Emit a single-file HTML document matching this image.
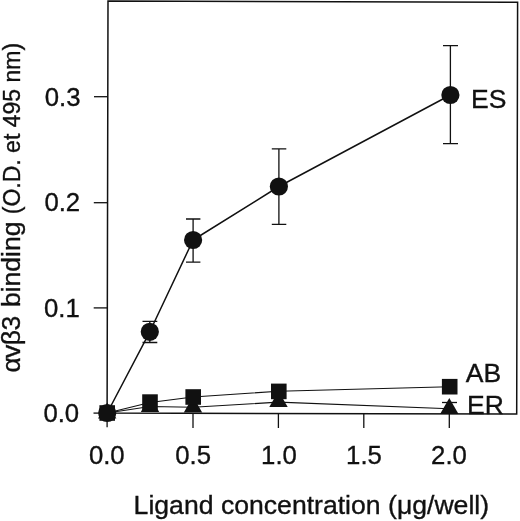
<!DOCTYPE html>
<html><head><meta charset="utf-8"><title>Ligand concentration binding chart</title>
<style>
html,body{margin:0;padding:0;background:#fff;}
svg{display:block;}
text{font-family:"Liberation Sans",sans-serif;fill:#111;stroke:#111;stroke-width:0.35;}
</style></head><body>
<svg width="520" height="521" viewBox="0 0 520 521">
<rect x="0" y="0" width="520" height="521" fill="#fff"/>
<!-- frame -->
<path d="M108 1.1L517.6 2.2L516.7 414L107.1 413.1Z" fill="none" stroke="#111" stroke-width="1.5"/>
<!-- y ticks -->
<g stroke="#111" stroke-width="1.3">
<line x1="93.5" y1="413.1" x2="107.2" y2="413.1"/>
<line x1="93.7" y1="307.9" x2="107.5" y2="307.9"/>
<line x1="93.8" y1="202.7" x2="107.7" y2="202.7"/>
<line x1="94" y1="96.7" x2="107.8" y2="96.7"/>
<!-- x ticks -->
<line x1="107.1" y1="413.1" x2="107.1" y2="427.3"/>
<line x1="193" y1="413.7" x2="193" y2="428"/>
<line x1="278.4" y1="413.7" x2="278.4" y2="428"/>
<line x1="363.8" y1="413.7" x2="363.8" y2="428"/>
<line x1="449.3" y1="413.7" x2="449.3" y2="428"/>
</g>
<!-- error bars -->
<g stroke="#111" stroke-width="1.3" fill="none">
<path d="M149.8 321.3V342.5M142.5 321.3H157.3M142.5 342.5H157.3"/>
<path d="M193.1 219V262.2M186 219H200.4M186 262.2H200.4"/>
<path d="M278.9 148.8V224.3M271.8 148.8H286.3M271.8 224.3H286.3"/>
<path d="M450.4 45.7V143.7M443 45.7H458M443 143.7H458"/>
<path d="M442 402.5H457"/>
</g>
<!-- series lines -->
<g stroke="#111" stroke-width="1.5" fill="none" stroke-linejoin="round">
<polyline points="107.2,413 149.8,331.8 193.1,240 278.9,186.5 450.4,95"/>
</g>
<g stroke="#111" stroke-width="1.15" fill="none">
<polyline points="107.2,413 150,402.5 193,397 278.7,391.2 449.5,386.7"/>
<polyline points="107.2,413 150,406.5 193,407.2 278.5,402.2 449.3,408.7"/>
</g>
<!-- ER triangles -->
<g fill="#111">
<path d="M107.2 402.5L116.4 418.5H98Z"/>
<path d="M150 396L159.2 412H140.8Z"/>
<path d="M193 396.5L202.2 412.5H183.8Z"/>
<path d="M278.5 391L287.7 407H269.3Z"/>
<path d="M449.3 398L458.5 414H440.1Z"/>
</g>
<!-- AB squares -->
<g fill="#111">
<rect x="99.4" y="405.2" width="15.6" height="15.6"/>
<rect x="142.2" y="394.3" width="15.6" height="15.6"/>
<rect x="185.4" y="389.2" width="15.6" height="15.6"/>
<rect x="271" y="383.6" width="15.6" height="15.6"/>
<rect x="441.9" y="378.9" width="15.6" height="15.6"/>
</g>
<!-- ES circles -->
<g fill="#111">
<circle cx="107.2" cy="413" r="9.1"/>
<circle cx="149.8" cy="331.8" r="9.1"/>
<circle cx="193.1" cy="240" r="9.1"/>
<circle cx="278.9" cy="186.5" r="9.1"/>
<circle cx="450.4" cy="95" r="9.1"/>
</g>
<!-- series labels -->
<g font-size="26.5">
<text x="471" y="107.5">ES</text>
<text x="465.8" y="381.7">AB</text>
<text x="467" y="413.6">ER</text>
</g>
<!-- y tick labels -->
<g font-size="26.5" text-anchor="end">
<text x="79.2" y="422" textLength="35.8" lengthAdjust="spacingAndGlyphs">0.0</text>
<text x="79.8" y="316.9" textLength="35.8" lengthAdjust="spacingAndGlyphs">0.1</text>
<text x="80.2" y="211.1" textLength="35.8" lengthAdjust="spacingAndGlyphs">0.2</text>
<text x="80.6" y="106" textLength="35.8" lengthAdjust="spacingAndGlyphs">0.3</text>
</g>
<!-- x tick labels -->
<g font-size="26.5" text-anchor="middle">
<text x="106.8" y="464" textLength="35.8" lengthAdjust="spacingAndGlyphs">0.0</text>
<text x="193.2" y="464" textLength="35.8" lengthAdjust="spacingAndGlyphs">0.5</text>
<text x="279" y="464" textLength="35.8" lengthAdjust="spacingAndGlyphs">1.0</text>
<text x="364" y="464" textLength="35.8" lengthAdjust="spacingAndGlyphs">1.5</text>
<text x="449" y="464" textLength="35.8" lengthAdjust="spacingAndGlyphs">2.0</text>
</g>
<!-- x axis title -->
<text x="133.6" y="513.8" font-size="26.5" textLength="355.5" lengthAdjust="spacingAndGlyphs">Ligand concentration (μg/well)</text>
<!-- y axis title -->
<text transform="translate(20.2 372.6) rotate(-90)" font-size="26.5"><tspan letter-spacing="-0.6">αvβ3</tspan><tspan dx="2"> binding </tspan><tspan font-size="23">(O.D. et 495 nm)</tspan></text>
</svg>
</body></html>
